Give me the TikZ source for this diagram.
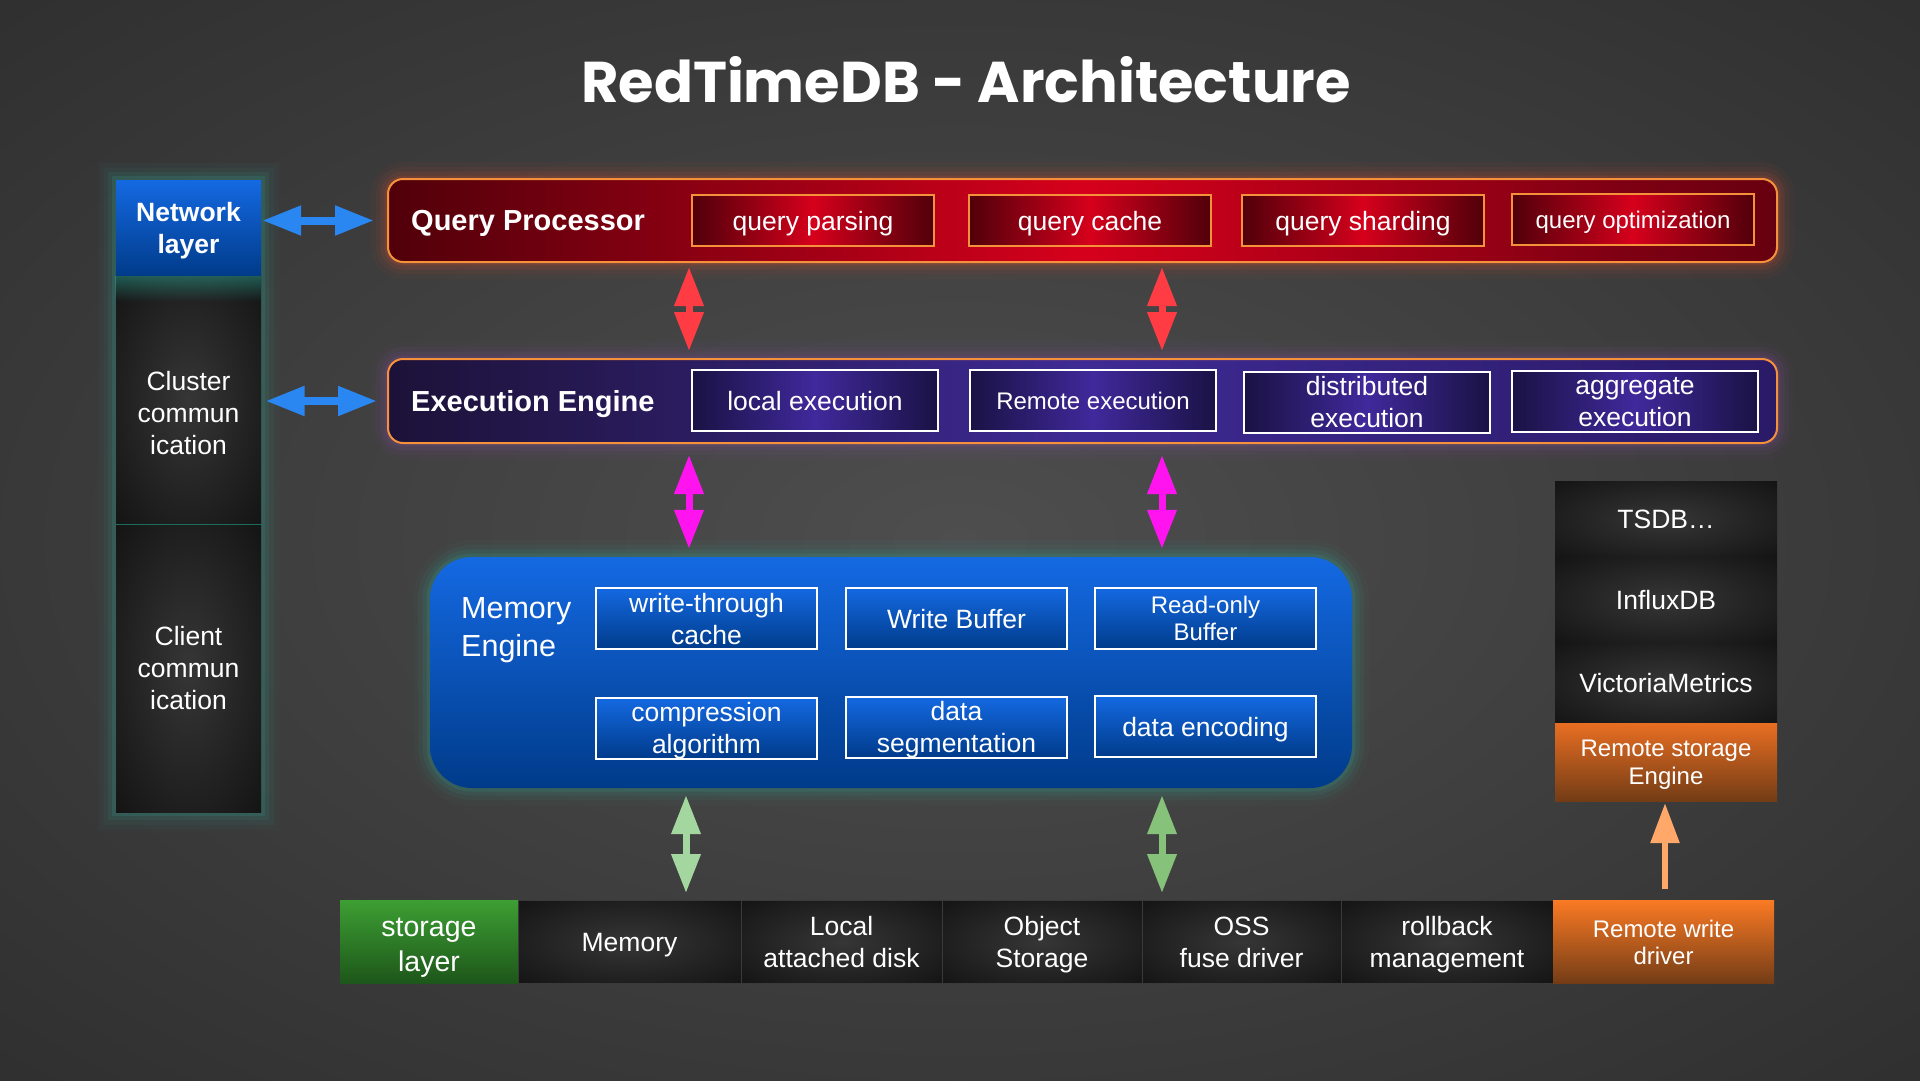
\documentclass[tikz,border=0pt]{standalone}
\usepackage{fontspec}
\setmainfont{Liberation Sans}
\newfontfamily\titlefont{Poppins}
\usetikzlibrary{arrows.meta,calc,fadings}
\definecolor{bgin}{HTML}{4E4E4E}
\definecolor{bgout}{HTML}{232323}
\definecolor{qpdark}{HTML}{50000A}
\definecolor{qpdarkR}{HTML}{660010}
\definecolor{qpbright}{HTML}{D6001C}
\definecolor{qporange}{HTML}{F5913A}
\definecolor{qpglow}{HTML}{F0502A}
\definecolor{eedark}{HTML}{1C1238}
\definecolor{eebright}{HTML}{3E2A94}
\definecolor{eeright}{HTML}{2A1A66}
\definecolor{eeglow}{HTML}{9050B0}
\definecolor{subdark}{HTML}{1A1244}
\definecolor{subpurple}{HTML}{40299C}
\definecolor{bluetop}{HTML}{1469E2}
\definecolor{bluebot}{HTML}{003B8A}
\definecolor{tealglow}{HTML}{2FB3A0}
\definecolor{cellin}{HTML}{363636}
\definecolor{cellout}{HTML}{060606}
\definecolor{cellline}{HTML}{3A3A3A}
\definecolor{greentop}{HTML}{3D9E33}
\definecolor{greenbot}{HTML}{1D561A}
\definecolor{orangetop}{HTML}{FA7A24}
\definecolor{orangebot}{HTML}{733C16}
\definecolor{orangetopB}{HTML}{E86E22}
\definecolor{arrred}{HTML}{FF3C44}
\definecolor{arrmag}{HTML}{FF14F0}
\definecolor{arrgreenA}{HTML}{A4D6A0}
\definecolor{arrgreenB}{HTML}{86C27A}
\definecolor{arrorange}{HTML}{FFA86A}
\definecolor{arrblue}{HTML}{2A86F0}
\pgfdeclareradialshading{bgshade}{\pgfpoint{0bp}{0bp}}{color(0bp)=(bgin); color(50bp)=(bgout)}
\pgfdeclareradialshading{cellshade}{\pgfpoint{0bp}{0bp}}{color(0bp)=(cellin); color(50bp)=(cellout)}
\pgfdeclarelayer{back}
\pgfdeclarelayer{glowlayer}
\pgfsetlayers{back,glowlayer,main}
\newcommand\fsA{\fontsize{26.5}{32}\selectfont}
\newcommand\fsB{\fontsize{24}{28}\selectfont}
\newcommand\fsC{\fontsize{29}{35}\selectfont}
\newcommand\fsM{\fontsize{30.5}{38}\selectfont}
\begin{document}
\begin{tikzpicture}[x=1pt,y=-1pt,
  glow/.style={preaction={draw=#1,line width=34pt,draw opacity=.04},
               preaction={draw=#1,line width=24pt,draw opacity=.06},
               preaction={draw=#1,line width=15pt,draw opacity=.09},
               preaction={draw=#1,line width=7pt,draw opacity=.14}},
  box/.style={inner sep=0pt, text=white, align=center, font=\fsA, text depth=0pt},
  bar/.style={inner sep=0pt, minimum width=1389pt, rounded corners=15pt, draw=qporange, line width=2pt},
  lbl/.style={inner sep=0pt, text=white, font=\fsC\bfseries},
  qpsub/.style={box, draw=qporange, line width=2pt, left color=qpdark, right color=qpdark, middle color=qpbright, minimum width=242pt, minimum height=51pt},
  eesub/.style={box, draw=white, line width=2pt, left color=subdark, right color=subdark, middle color=subpurple, minimum width=246pt, minimum height=61pt},
  memsub/.style={box, draw=white, line width=2pt, top color=bluetop, bottom color=bluebot, minimum width=221pt, minimum height=61pt},
  cell/.style={box, shade, shading=cellshade, draw=cellline, line width=1pt},
  dbl/.style={draw=#1, line width=7pt, {Triangle[length=39pt,width=28pt]}-{Triangle[length=39pt,width=28pt]}},
  hdbl/.style={draw=#1, line width=8pt, {Triangle[length=39pt,width=28pt]}-{Triangle[length=39pt,width=28pt]}},
  single/.style={draw=#1, line width=6pt, -{Triangle[length=40pt,width=28pt]}}
]
\begin{pgfonlayer}{back}
\shade[shading=bgshade] (0,0) rectangle (1920,1080);
\end{pgfonlayer}
\useasboundingbox (0,0) rectangle (1920,1080);

% title
\node[inner sep=0pt, text=white, anchor=base, font=\titlefont\bfseries\fontsize{57.5}{62}\selectfont] (title) at (966,102) {RedTimeDB - Architecture};

% network column
\node[box, minimum width=145pt, minimum height=96pt, top color=bluetop, bottom color=bluebot, font=\fsA\bfseries] (NL) at (188.5,228) {Network\\layer};
\node[cell, minimum width=145pt, minimum height=248pt, draw=none] (CL) at (188.5,400) {};
\node[box] (CLt) at (188.5,413) {Cluster\\commun\\ication};
\node[cell, minimum width=145pt, minimum height=288pt, draw=none] (CC) at (188.5,668) {Client\\commun\\ication};
\fill[tealglow, fill opacity=.45, path fading=south] (CL.north west) rectangle ($(CL.north east)+(0,26)$);
\draw[tealglow!60!black, line width=1.5pt] (CL.south west) -- (CL.south east);
\begin{pgfonlayer}{glowlayer}
\path[glow=tealglow] (NL.north west) rectangle (CC.south east);
\end{pgfonlayer}

% query processor
\node[bar, minimum height=83pt, left color=qpdark, right color=qpdarkR, middle color=qpbright, glow=qpglow] (QP) at (1082.5,220.5) {};
\node[lbl, anchor=base west] (QPl) at (411,230.5) {Query Processor};
\node[qpsub] (qparse) at (813,220.5) {query parsing};
\node[qpsub] (qcache) at (1090,220.5) {query cache};
\node[qpsub] (qshard) at (1363,220.5) {query sharding};
\node[qpsub, font=\fsB] (qopt) at (1633,219.5) {query optimization};

% execution engine
\node[bar, minimum height=84pt, left color=eedark, right color=eeright, middle color=eebright, glow=eeglow] (EE) at (1082.5,401) {};
\node[lbl, anchor=base west] (EEl) at (411,411.5) {Execution Engine};
\node[eesub] (lexec) at (815,400.5) {local execution};
\node[eesub, font=\fsB] (rexec) at (1093,400.5) {Remote execution};
\node[eesub] (dexec) at (1367,402) {distributed\\execution};
\node[eesub] (aexec) at (1635,401.5) {aggregate\\execution};

% memory engine
\node[inner sep=0pt, minimum width=922pt, minimum height=231pt, rounded corners=42pt, top color=bluetop, bottom color=bluebot, glow=tealglow] (Mem) at (891,672.5) {};
\node[inner sep=0pt, text=white, align=left, anchor=west, font=\fsM] (Meml) at (461,630) {Memory\\Engine};
\node[memsub] (wtc) at (706.5,618.5) {write-through\\cache};
\node[memsub] (wbuf) at (956.5,618.5) {Write Buffer};
\node[memsub, font=\fontsize{24}{27}\selectfont] (robuf) at (1205.5,618.5) {Read-only\\Buffer};
\node[memsub] (comp) at (706.5,728) {compression\\algorithm};
\node[memsub] (dseg) at (956.5,727) {data\\segmentation};
\node[memsub] (denc) at (1205.5,726.5) {data encoding};

% right column
\node[cell, minimum width=222pt, minimum height=76pt, draw=none] (TS) at (1666,519) {TSDB…};
\node[cell, minimum width=222pt, minimum height=85pt, draw=none] (IF) at (1666,599.5) {InfluxDB};
\node[cell, minimum width=222pt, minimum height=82pt, draw=none] (VM) at (1666,683) {VictoriaMetrics};
\node[box, minimum width=222pt, minimum height=78pt, top color=orangetopB, bottom color=orangebot, font=\fontsize{24}{28}\selectfont] (RSE) at (1666,762) {Remote storage\\Engine};

% storage row
\node[box, minimum width=178pt, minimum height=83pt, top color=greentop, bottom color=greenbot] (SL) at (429,942) {};
\node[box, font=\fontsize{28.5}{35}\selectfont] (SLt) at (429,944.5) {storage\\layer};
\node[cell, minimum width=223pt, minimum height=83pt] (SM) at (629.5,942) {Memory};
\node[cell, minimum width=201pt, minimum height=83pt] (SLD) at (841.5,942) {Local\\attached disk};
\node[cell, minimum width=200pt, minimum height=83pt] (SOS) at (1042,942) {Object\\Storage};
\node[cell, minimum width=199pt, minimum height=83pt] (SOF) at (1241.5,942) {OSS\\fuse driver};
\node[cell, minimum width=212pt, minimum height=83pt] (SRB) at (1447,942) {rollback\\management};
\node[box, minimum width=221pt, minimum height=83pt, top color=orangetop, bottom color=orangebot, font=\fontsize{24}{27}\selectfont] (SRW) at (1663.5,942) {Remote write\\driver};

% connectors
\coordinate (ax1) at (689,0);
\coordinate (ax2) at (1162,0);
\coordinate (ax3) at (686,0);
\coordinate (ax4) at (1665,0);
\draw[hdbl=arrblue] ($(NL.east |- QP.west)+(1,0)$) -- ($(QP.west)+(-13,0)$);
\draw[hdbl=arrblue] ($(CL.east |- EE.west)+(4,0)$) -- ($(EE.west)+(-10,0)$);
\draw[dbl=arrred] ($(QP.south -| ax1)+(0,4)$) -- ($(EE.north -| ax1)+(0,-7)$);
\draw[dbl=arrred] ($(QP.south -| ax2)+(0,4)$) -- ($(EE.north -| ax2)+(0,-7)$);
\draw[dbl=arrmag] ($(EE.south -| ax1)+(0,11)$) -- ($(Mem.north -| ax1)+(0,-8)$);
\draw[dbl=arrmag] ($(EE.south -| ax2)+(0,11)$) -- ($(Mem.north -| ax2)+(0,-8)$);
\draw[dbl=arrgreenA] ($(Mem.south -| ax3)+(0,7)$) -- ($(SM.north -| ax3)+(0,-7)$);
\draw[dbl=arrgreenB] ($(Mem.south -| ax2)+(0,7)$) -- ($(SOF.north -| ax2)+(0,-7)$);
\draw[single=arrorange] ($(SRW.north -| ax4)+(0,-11)$) -- ($(RSE.south -| ax4)+(0,2)$);
\end{tikzpicture}
\end{document}
